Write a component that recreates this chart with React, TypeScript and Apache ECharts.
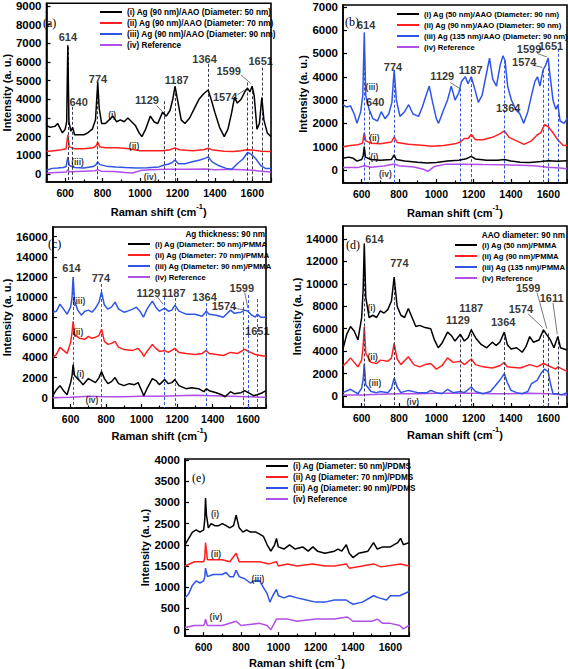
import React, { useEffect, useRef } from "react";
import * as echarts from "echarts";

type P = [number, number][];
type L = [string, number, number][];

const FONT = "'Liberation Sans', Arial, sans-serif";
const SERIF = "'Liberation Serif', 'Times New Roman', serif";
const BLACK = "#000000";
const RED = "#ff1f1f";
const BLUE = "#2f55e6";
const PURPLE = "#b04ee8";

// ---------- Panel (a) ----------
const A_NAMES = [
  "(i) Ag (90 nm)/AAO (Diameter: 50 nm)",
  "(ii) Ag (90 nm)/AAO (Diameter: 70 nm)",
  "(iii) Ag (90 nm)/AAO (Diameter: 90 nm)",
  "(iv) Reference",
];
const A_I: P = [[500,2600],[520,2500],[545,2550],[560,2700],[575,2400],[585,2200],[600,2400],[608,2800],[614,6900],[620,2800],[630,2300],[640,2500],[650,2100],[680,2100],[700,2100],[720,2200],[745,2400],[762,2900],[774,4900],[782,3500],[795,2700],[815,2700],[835,2900],[855,3100],[875,2800],[895,2900],[915,2800],[935,3000],[955,2800],[975,2600],[995,2200],[1010,2000],[1030,2400],[1055,3100],[1075,2800],[1095,2700],[1120,3300],[1140,3100],[1160,3400],[1175,4000],[1187,4700],[1200,4000],[1220,2900],[1240,2700],[1265,3000],[1290,3500],[1315,4000],[1340,4300],[1364,4500],[1380,4000],[1400,3300],[1425,2500],[1450,2000],[1470,2400],[1490,3300],[1505,4100],[1520,3800],[1540,4000],[1560,4400],[1574,4600],[1588,4400],[1599,4700],[1610,4200],[1625,2400],[1638,2700],[1651,4100],[1662,2900],[1680,2200],[1700,2000]];
const A_II: P = [[500,1200],[540,1250],[580,1300],[605,1350],[614,2100],[622,1450],[650,1350],[700,1350],[750,1400],[765,1500],[774,1700],[785,1450],[820,1400],[880,1400],[940,1350],[1000,1250],[1060,1250],[1120,1250],[1160,1300],[1187,1400],[1210,1300],[1280,1250],[1340,1300],[1364,1380],[1390,1280],[1450,1220],[1500,1200],[1540,1250],[1570,1300],[1600,1280],[1650,1220],[1700,1200]];
const A_III: P = [[500,200],[530,300],[560,320],[590,350],[605,400],[614,900],[622,450],[650,350],[700,320],[750,400],[765,500],[774,650],[785,500],[820,420],[870,380],[920,350],[980,320],[1040,330],[1100,380],[1129,480],[1150,520],[1170,600],[1187,750],[1205,550],[1240,550],[1280,650],[1320,750],[1350,850],[1364,920],[1385,650],[1420,450],[1460,300],[1490,250],[1520,550],[1550,800],[1575,1150],[1595,1050],[1620,800],[1645,450],[1670,300],[1700,300]];
const A_IV: P = [[500,50],[560,80],[605,100],[614,220],[622,120],[700,150],[760,170],[774,230],[790,150],[860,130],[920,80],[960,50],[1000,180],[1050,230],[1150,250],[1250,250],[1350,260],[1400,220],[1480,250],[1550,230],[1600,200],[1650,150],[1700,100]];
const A_PEAKS = [614, 640, 774, 1129, 1187, 1364, 1574, 1599, 1651];
const A_PEAK_TOPS = [6800, 3600, 4700, 3900, 4600, 5900, 4900, 4700, 5700];
const A_LABELS: L = [["614",614,7350],["640",672,3870],["774",775,5100],["1129",1037,3960],["1187",1196,5050],["1364",1345,6150],["1599",1474,5500],["1574",1455,4150],["1651",1645,6050]];
const A_TAGS: L = [["(i)",851,3180],["(ii)",968,1520],["(iii)",666,620],["(iv)",1054,-150]];
const A_LEADERS: P[] = [[[1090,3650],[1128,3250]],[[1522,4250],[1568,4550]],[[1540,5300],[1592,4850]]];

// ---------- Panel (b) ----------
const B_NAMES = [
  "(i) Ag (50 nm)/AAO (Diameter: 90 nm)",
  "(ii) Ag (90 nm)/AAO (Diameter: 90 nm)",
  "(iii) Ag (135 nm)/AAO (Diameter: 90 nm)",
  "(iv) Reference",
];
const B_I: P = [[500,500],[530,550],[555,500],[575,380],[600,450],[608,600],[614,1000],[620,550],[650,450],[700,420],[760,450],[774,650],[785,450],[830,380],[900,330],[950,300],[1000,320],[1060,380],[1120,420],[1160,480],[1187,580],[1210,470],[1270,420],[1330,420],[1364,450],[1400,380],[1450,330],[1500,320],[1560,360],[1600,400],[1650,370],[1700,400]];
const B_II: P = [[500,1000],[540,1050],[580,1080],[605,1150],[614,1600],[622,1250],[650,1150],[700,1120],[760,1200],[774,1420],[790,1180],[850,1100],[920,1060],[980,1020],[1040,1050],[1100,1120],[1129,1200],[1150,1350],[1170,1350],[1187,1520],[1210,1300],[1250,1300],[1300,1400],[1340,1550],[1364,1680],[1390,1400],[1430,1250],[1470,1100],[1510,1250],[1540,1500],[1560,1600],[1580,1950],[1600,1850],[1620,1650],[1650,1300],[1680,1050],[1700,1050]];
const B_III: P = [[500,2800],[520,2700],[540,2750],[560,2400],[575,2000],[595,2500],[606,3200],[614,5900],[622,3200],[640,2600],[660,2200],[685,2100],[705,2500],[725,2200],[745,2400],[762,2900],[774,4300],[786,3000],[805,2300],[830,2500],[852,2800],[875,2400],[905,2300],[925,2700],[945,3200],[962,3600],[980,2900],[1000,2200],[1012,2000],[1035,2500],[1060,3000],[1080,3600],[1100,3000],[1120,3300],[1135,3800],[1155,4000],[1170,3700],[1187,4000],[1205,3500],[1225,2900],[1245,3200],[1265,4000],[1285,4800],[1302,3900],[1322,3600],[1342,4500],[1357,4900],[1368,4700],[1382,3600],[1402,3000],[1425,2600],[1448,2400],[1468,2000],[1490,2500],[1510,3200],[1528,3800],[1542,4000],[1555,3600],[1572,4300],[1586,4500],[1599,4800],[1610,4000],[1625,3000],[1640,2600],[1651,2800],[1663,2100],[1685,2000],[1700,2200]];
const B_IV: P = [[500,100],[580,100],[614,180],[650,120],[720,170],[774,260],[800,180],[880,130],[930,30],[955,-60],[990,150],[1050,250],[1150,250],[1250,230],[1350,220],[1450,200],[1520,180],[1600,120],[1660,80],[1700,50]];
const B_PEAKS = [614, 640, 774, 1129, 1187, 1364, 1574, 1599, 1651];
const B_PEAK_TOPS = [5900, 2500, 4300, 3500, 3900, 4700, 4300, 4800, 5200];
const B_LABELS: L = [["614",624,6210],["640",673,2930],["774",768,4430],["1129",1032,4030],["1187",1184,4290],["1364",1385,2640],["1599",1497,5210],["1574",1471,4640],["1651",1614,5330]];
const B_TAGS: L = [["(iii)",655,3540],["(ii)",668,1390],["(i)",668,570],["(iv)",727,-170]];
const B_LEADERS: P[] = [[[1075,3750],[1125,3500]],[[1540,5000],[1592,4850]],[[1515,4500],[1568,4400]]];

// ---------- Panel (c) ----------
const C_NAMES = [
  "(i) Ag (Diameter: 50 nm)/PMMA",
  "(ii) Ag (Diameter: 70 nm)/PMMA",
  "(iii) Ag (Diameter: 90 nm)/PMMA",
  "(iv) Reference",
];
const C_I: P = [[500,200],[520,800],[540,1200],[560,700],[580,300],[600,1500],[608,2200],[614,3300],[622,2200],[650,1700],[670,1300],[700,1900],[720,1700],[740,1500],[760,2000],[774,2600],[790,1900],[810,1400],[830,1600],[850,2000],[870,1400],[900,1200],[930,1400],[960,1300],[980,1500],[1000,700],[1012,200],[1030,900],[1060,1900],[1080,1700],[1100,1300],[1129,1800],[1150,1400],[1170,1500],[1187,1800],[1210,1200],[1250,900],[1280,1000],[1320,900],[1350,600],[1364,900],[1380,700],[1420,500],[1450,300],[1470,100],[1500,600],[1520,400],[1560,500],[1580,700],[1600,500],[1630,200],[1650,300],[1680,500],[1700,700]];
const C_II: P = [[500,4000],[520,4300],[540,5000],[560,4700],[580,4400],[600,5500],[608,6500],[614,7600],[622,6300],[650,5900],[680,5800],[700,6100],[720,5900],[740,6000],[760,6200],[774,6800],[790,5600],[810,5300],[830,5400],[850,5600],[870,5000],[900,4800],[950,4700],[980,4900],[1000,4500],[1012,4100],[1030,4600],[1060,5300],[1080,4900],[1100,4600],[1129,4700],[1150,4500],[1187,4900],[1210,4500],[1250,4400],[1300,4300],[1340,4400],[1364,4700],[1380,4400],[1420,4300],[1460,4200],[1500,4500],[1540,4400],[1580,4800],[1600,4600],[1640,4300],[1700,4100]];
const C_III: P = [[500,8500],[520,8600],[540,9300],[560,8800],[580,8300],[600,9000],[608,10000],[614,12000],[622,9600],[640,8700],[660,8200],[680,8600],[700,8700],[720,8500],[740,8900],[760,9500],[774,10500],[790,9200],[810,8800],[830,9000],[850,9500],[870,8800],[900,8500],[920,8600],[950,8800],[970,9000],[990,8600],[1010,8000],[1030,8800],[1060,9600],[1080,9000],[1100,8600],[1129,8900],[1150,8600],[1170,8700],[1187,9200],[1210,8600],[1250,8300],[1300,8300],[1340,8100],[1364,8600],[1380,8300],[1420,8200],[1460,8000],[1500,8700],[1520,8400],[1560,8500],[1580,8700],[1599,8600],[1620,8200],[1640,8000],[1651,8300],[1670,8000],[1700,8000]];
const C_IV: P = [[500,0],[600,50],[700,150],[800,100],[900,100],[1000,150],[1100,150],[1200,200],[1300,250],[1400,200],[1500,150],[1600,100],[1700,50]];
const C_PEAKS = [614, 774, 1129, 1187, 1364, 1574, 1599, 1651];
const C_PEAK_TOPS = [12000, 11300, 10000, 9900, 9400, 9500, 10200, 9800];
const C_LABELS: L = [["614",605,12850],["774",770,11850],["1129",1038,10430],["1187",1180,10430],["1364",1354,9970],["1599",1564,10860],["1574",1463,9110],["1651",1651,6660]];
const C_TAGS: L = [["(iii)",647,9640],["(ii)",642,6560],["(i)",655,2350],["(iv)",720,-230]];
const C_LEADERS: P[] = [[[1085,10100],[1120,9300]],[[1580,10450],[1598,8900]],[[1515,8900],[1572,8750]]];

// ---------- Panel (d) ----------
const D_NAMES = [
  "(i) Ag (50 nm)/PMMA",
  "(ii) Ag (90 nm)/PMMA",
  "(iii) Ag (135 nm)/PMMA",
  "(iv) Reference",
];
const D_I: P = [[500,4200],[520,5500],[540,6200],[560,5800],[580,5000],[600,7000],[608,9500],[614,13600],[622,8800],[640,7000],[660,7200],[680,7000],[700,7600],[720,7400],[740,7700],[760,8500],[774,10600],[790,8000],[810,7200],[830,7000],[850,7800],[870,7000],[890,6200],[910,6300],[940,6100],[970,6000],[990,5000],[1010,4300],[1030,4700],[1060,5700],[1080,5400],[1100,4900],[1129,5500],[1150,4900],[1170,5200],[1187,5900],[1210,5200],[1240,4600],[1270,4300],[1300,4800],[1320,4500],[1340,4800],[1364,5700],[1380,4600],[1400,4200],[1430,4300],[1460,3900],[1480,4400],[1500,5300],[1520,4800],[1550,5000],[1574,5900],[1590,5500],[1611,5000],[1630,4300],[1651,5300],[1665,4300],[1700,4100]];
const D_II: P = [[500,2700],[520,3000],[540,3400],[560,3000],[580,2600],[600,3200],[608,4500],[614,6200],[622,3800],[650,3000],[680,2900],[700,3200],[740,3100],[760,3400],[774,4700],[790,3300],[810,2800],[850,3500],[880,2800],[910,2600],[940,2800],[970,2900],[1000,2400],[1030,2700],[1060,3400],[1090,3000],[1129,3100],[1150,2800],[1187,3300],[1210,2800],[1250,2600],[1300,2500],[1340,2700],[1364,3000],[1380,2600],[1450,2500],[1500,2800],[1540,2600],[1574,2900],[1600,2700],[1640,2400],[1651,2600],[1700,2200]];
const D_III: P = [[500,300],[540,600],[560,400],[580,200],[600,700],[608,1500],[614,2900],[622,1000],[650,400],[680,300],[700,400],[740,300],[760,700],[774,1600],[790,800],[810,300],[850,500],[900,300],[950,300],[970,500],[1000,300],[1030,200],[1060,600],[1090,300],[1129,400],[1150,300],[1187,800],[1210,400],[1250,200],[1290,400],[1320,1000],[1340,1400],[1364,2000],[1380,1200],[1400,500],[1430,300],[1460,200],[1490,400],[1510,1100],[1540,1400],[1560,2000],[1580,2400],[1599,2200],[1610,1200],[1625,200],[1651,200],[1670,100],[1700,300]];
const D_IV: P = [[500,100],[600,100],[700,150],[800,200],[900,200],[1000,250],[1100,250],[1200,250],[1300,200],[1400,200],[1500,250],[1600,200],[1700,100]];
const D_PEAKS = [614, 774, 1129, 1187, 1364, 1574, 1599, 1651];
const D_PEAK_TOPS = [13600, 10600, 5500, 6000, 5700, 5900, 5600, 5300];
const D_LABELS: L = [["614",668,13990],["774",802,11850],["1129",1116,6790],["1187",1187,7830],["1364",1358,6640],["1574",1453,7740],["1599",1492,9610],["1611",1618,8720]];
const D_TAGS: L = [["(i)",653,7830],["(ii)",659,3510],["(iii)",671,1130],["(iv)",874,-500]];
const D_LEADERS: P[] = [[[1540,9200],[1592,6000]],[[1490,7350],[1570,6100]],[[1625,8300],[1648,5500]]];

// ---------- Panel (e) ----------
const E_NAMES = [
  "(i) Ag (Diameter: 50 nm)/PDMS",
  "(ii) Ag (Diameter: 70 nm)/PDMS",
  "(iii) Ag (Diameter: 90 nm)/PDMS",
  "(iv) Reference",
];
const E_I: P = [[500,2000],[520,2150],[540,2300],[560,2350],[580,2300],[600,2350],[606,2600],[610,3100],[615,2700],[625,2400],[640,2500],[660,2450],[680,2450],[700,2500],[720,2450],[740,2400],[760,2450],[774,2700],[790,2400],[810,2300],[830,2350],[850,2300],[880,2300],[900,2250],[920,2200],[940,2000],[960,1850],[980,2000],[990,2150],[1000,1950],[1030,1900],[1060,2000],[1090,1900],[1130,1950],[1160,1850],[1185,1950],[1210,1850],[1250,1800],[1300,1850],[1320,1900],[1340,1850],[1364,2000],[1380,1800],[1400,1700],[1430,1800],[1480,1850],[1510,2050],[1530,1900],[1560,1950],[1600,1950],[1640,2050],[1655,2150],[1670,2000],[1700,2050]];
const E_II: P = [[500,1500],[550,1600],[600,1600],[606,1700],[610,2050],[620,1650],[650,1650],[700,1650],[740,1600],[774,1800],[790,1600],[850,1600],[900,1600],[950,1550],[990,1600],[1000,1500],[1050,1550],[1100,1500],[1185,1550],[1250,1500],[1300,1500],[1364,1550],[1380,1450],[1450,1500],[1510,1550],[1550,1480],[1655,1550],[1700,1500]];
const E_III: P = [[500,750],[520,850],[540,1050],[560,1150],[580,1100],[600,1150],[606,1250],[610,1450],[620,1250],[650,1300],[700,1300],[720,1350],[740,1250],[760,1250],[774,1400],[790,1250],[820,1200],[850,1100],[870,1150],[900,1150],[920,1000],[940,850],[955,650],[970,800],[990,950],[1000,800],[1030,750],[1060,800],[1100,750],[1150,700],[1200,650],[1250,650],[1300,700],[1364,700],[1380,650],[1400,600],[1450,650],[1510,800],[1540,750],[1580,700],[1600,800],[1650,800],[1700,900]];
const E_IV: P = [[500,50],[550,100],[600,100],[606,150],[610,250],[620,100],[700,100],[774,200],[800,100],[900,150],[940,100],[960,0],[990,250],[1050,250],[1100,200],[1200,250],[1300,250],[1370,300],[1400,200],[1500,200],[1530,250],[1560,150],[1600,150],[1650,100],[1670,20],[1700,100]];
const E_TAGS: L = [["(i)",661,2720],["(ii)",666,1790],["(iii)",891,1200],["(iv)",666,300]];

const COLORS = [BLACK, RED, BLUE, PURPLE];

interface Panel {
  box: [number, number, number, number];
  yMin: number; yMax: number; yStep: number;
  names: string[]; data: P[];
  peaks: number[]; tops: number[]; dash: string;
  labels: L; tags: L; leaders: P[];
  legend: [number, number, number];
  letter: [string, number, number];
  header?: [string, number, number];
  yGap: number; xGap: number;
}

const PANELS: Panel[] = [
  { box: [40, 3, 231, 179], yMin: -430, yMax: 9150, yStep: 1000, names: A_NAMES, data: [A_I, A_II, A_III, A_IV],
    peaks: A_PEAKS, tops: A_PEAK_TOPS, dash: "#3a3a55", labels: A_LABELS, tags: A_TAGS, leaders: A_LEADERS,
    legend: [100, 7, 8.2], letter: ["(a)", 43, 17], yGap: 28, xGap: 20 },
  { box: [343, 5, 224, 178], yMin: -560, yMax: 7080, yStep: 1000, names: B_NAMES, data: [B_I, B_II, B_III, B_IV],
    peaks: B_PEAKS, tops: B_PEAK_TOPS, dash: "#3355dd", labels: B_LABELS, tags: B_TAGS, leaders: B_LEADERS,
    legend: [397, 9, 7.7], letter: ["(b)", 345, 16], yGap: 25, xGap: 20 },
  { box: [45, 227, 221, 181], yMin: -1020, yMax: 16960, yStep: 2000, names: C_NAMES, data: [C_I, C_II, C_III, C_IV],
    peaks: C_PEAKS, tops: C_PEAK_TOPS, dash: "#3355dd", labels: C_LABELS, tags: C_TAGS, leaders: C_LEADERS,
    legend: [128, 239, 7.7], letter: ["(c)", 48, 238], header: ["Ag thickness: 90 nm", 265, 234], yGap: 31, xGap: 18 },
  { box: [343, 226, 224, 181], yMin: -980, yMax: 15160, yStep: 2000, names: D_NAMES, data: [D_I, D_II, D_III, D_IV],
    peaks: D_PEAKS, tops: D_PEAK_TOPS, dash: "#3a3a55", labels: D_LABELS, tags: D_TAGS, leaders: D_LEADERS,
    legend: [455, 240, 7.7], letter: ["(d)", 346, 239], header: ["AAO diameter: 90 nm", 565, 235], yGap: 29, xGap: 18 },
  { box: [185, 459, 224, 179], yMin: -150, yMax: 4020, yStep: 500, names: E_NAMES, data: [E_I, E_II, E_III, E_IV],
    peaks: [], tops: [], dash: "#333", labels: [], tags: E_TAGS, leaders: [],
    legend: [266, 461, 8.2], letter: ["(e)", 192, 472], yGap: 29, xGap: 15 },
];

const plain = (v: number) => String(v);

function buildOption() {
  const grid: any[] = [];
  const xAxis: any[] = [];
  const yAxis: any[] = [];
  const series: any[] = [];
  const legend: any[] = [];
  const graphic: any[] = [];
  const tickStyle = { color: "#000", width: 1.2 };
  PANELS.forEach((p, i) => {
    grid.push({ left: p.box[0], top: p.box[1], width: p.box[2], height: p.box[3], show: true,
      borderColor: "#000", borderWidth: 1.6, backgroundColor: "transparent" });
    xAxis.push({
      gridIndex: i, type: "value", min: 500, max: 1700, minInterval: 200, maxInterval: 200,
      axisLine: { show: true, onZero: false, lineStyle: { color: "#000", width: 1.6 } },
      axisTick: { show: true, inside: true, length: 4, lineStyle: tickStyle },
      minorTick: { show: true, splitNumber: 2, length: 2.5, lineStyle: tickStyle },
      splitLine: { show: false },
      axisLabel: { formatter: plain, showMinLabel: false, showMaxLabel: false, fontSize: 10.5, fontWeight: "bold", color: "#000", fontFamily: FONT, margin: 5 },
      name: "{a|Raman shift (cm}{s|-1}{a|)}", nameLocation: "middle", nameGap: p.xGap,
      nameTextStyle: { rich: {
        a: { fontSize: 11, fontWeight: "bold", fontFamily: FONT, color: "#000", lineHeight: 15, verticalAlign: "bottom" },
        s: { fontSize: 7.5, fontWeight: "bold", fontFamily: FONT, color: "#000", lineHeight: 15, verticalAlign: "top" },
      } },
    });
    yAxis.push({
      gridIndex: i, type: "value", min: p.yMin, max: p.yMax, minInterval: p.yStep, maxInterval: p.yStep,
      axisLine: { show: true, lineStyle: { color: "#000", width: 1.6 } },
      axisTick: { show: true, inside: true, length: 4, lineStyle: tickStyle },
      splitLine: { show: false },
      axisLabel: { formatter: plain, showMinLabel: false, showMaxLabel: false, fontSize: 11.5, fontWeight: "bold", color: "#000", fontFamily: FONT, margin: 5 },
      name: "Intensity (a. u.)", nameLocation: "middle", nameGap: p.yGap, nameRotate: 90,
      nameTextStyle: { fontSize: 11, fontWeight: "bold", fontFamily: FONT, color: "#000" },
    });
    p.data.forEach((d, k) => {
      series.push({
        type: "line", name: p.names[k], xAxisIndex: i, yAxisIndex: i, data: d, showSymbol: false, symbol: "none",
        lineStyle: { color: COLORS[k], width: 1.5 }, itemStyle: { color: COLORS[k] }, z: 5 - k, silent: true,
      });
    });
    const lines: any[] = [];
    p.peaks.forEach((x, k) => {
      lines.push([{ coord: [x, p.tops[k]], lineStyle: { color: p.dash, type: [3, 2], width: 1 } }, { coord: [x, p.yMin] }]);
    });
    p.leaders.forEach((seg) => {
      lines.push([{ coord: seg[0], lineStyle: { color: "#555", type: "solid", width: 0.8 } }, { coord: seg[1] }]);
    });
    const ann = [
      ...p.labels.map(([t, x, y]) => ({ value: [x, y], label: { show: true, formatter: t, position: "inside", fontSize: 11, fontWeight: "bold", color: "#000", fontFamily: FONT } })),
      ...p.tags.map(([t, x, y]) => ({ value: [x, y], label: { show: true, formatter: t, position: "inside", fontSize: 8.5, fontWeight: "bold", color: "#000", fontFamily: FONT } })),
    ];
    series.push({
      type: "scatter", name: "annot" + i, xAxisIndex: i, yAxisIndex: i, symbolSize: 0, data: ann, silent: true, z: 10,
      markLine: { silent: true, symbol: ["none", "none"], label: { show: false }, animation: false, data: lines },
    });
    legend.push({
      orient: "vertical", left: p.legend[0], top: p.legend[1], padding: 0, itemWidth: 22, itemHeight: 2, itemGap: 1,
      icon: "rect", selectedMode: false, data: p.names,
      textStyle: { fontSize: p.legend[2], fontWeight: "bold", fontFamily: FONT, color: "#000", lineHeight: 10 },
    });
    graphic.push({ type: "text", left: p.letter[1], top: p.letter[2],
      style: { text: p.letter[0], fontSize: 12, fontFamily: SERIF, fill: "#000" } });
    if (p.header) {
      graphic.push({ type: "text", x: p.header[1], y: p.header[2],
        style: { text: p.header[0], fontSize: 8.2, fontWeight: "bold", fontFamily: FONT, fill: "#000", align: "right", verticalAlign: "middle" } });
    }
  });
  return { animation: false, backgroundColor: "#ffffff", grid, xAxis, yAxis, series, legend, graphic };
}

export default function App() {
  const ref = useRef<HTMLDivElement>(null);
  useEffect(() => {
    if (!ref.current) return;
    const chart = echarts.init(ref.current, undefined, { renderer: "svg" });
    chart.setOption(buildOption() as any);
    return () => chart.dispose();
  }, []);
  return <div ref={ref} style={{ position: "absolute", left: 0, top: 0, width: 568, height: 669 }} />;
}
